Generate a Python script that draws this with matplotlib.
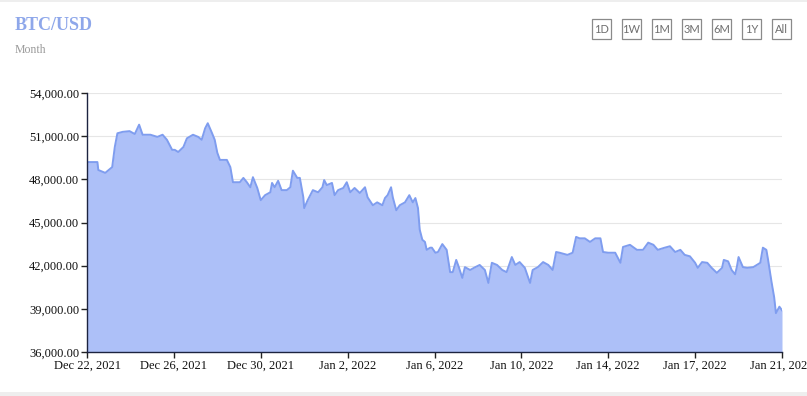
import matplotlib
matplotlib.use("Agg")
import matplotlib.pyplot as plt
from matplotlib.patches import Rectangle

# position along the category axis (0 = Dec 22 tick, 8 = Jan 21 tick)
pos = [0.00, 0.12, 0.13, 0.21, 0.29, 0.32, 0.35, 0.41, 0.49, 0.55, 0.60, 0.64,
       0.73, 0.81, 0.87, 0.92, 0.98, 1.01, 1.05, 1.11, 1.15, 1.22, 1.28, 1.32,
       1.36, 1.39, 1.44, 1.47, 1.50, 1.53, 1.61, 1.65, 1.68, 1.76, 1.80, 1.84,
       1.88, 1.91, 1.96, 2.00, 2.05, 2.11, 2.13, 2.16, 2.20, 2.24, 2.30, 2.34,
       2.37, 2.42, 2.45, 2.49, 2.50, 2.54, 2.60, 2.66, 2.71, 2.73, 2.76, 2.82,
       2.85, 2.89, 2.95, 2.99, 3.03, 3.08, 3.14, 3.20, 3.23, 3.29, 3.34, 3.40,
       3.43, 3.46, 3.50, 3.52, 3.56, 3.60, 3.66, 3.71, 3.75, 3.78, 3.81, 3.83,
       3.86, 3.89, 3.91, 3.95, 3.97, 4.01, 4.04, 4.09, 4.14, 4.18, 4.21, 4.25,
       4.28, 4.32, 4.35, 4.41, 4.47, 4.52, 4.58, 4.62, 4.66, 4.72, 4.78, 4.83,
       4.89, 4.93, 4.98, 5.04, 5.10, 5.13, 5.19, 5.25, 5.31, 5.36, 5.40, 5.44,
       5.53, 5.59, 5.63, 5.67, 5.73, 5.79, 5.85, 5.91, 5.94, 6.00, 6.08, 6.14,
       6.17, 6.25, 6.33, 6.40, 6.46, 6.52, 6.57, 6.65, 6.71, 6.77, 6.83, 6.88,
       6.94, 7.00, 7.03, 7.08, 7.14, 7.19, 7.25, 7.31, 7.33, 7.38, 7.42, 7.46,
       7.48, 7.50, 7.55, 7.60, 7.67, 7.75, 7.78, 7.82, 7.84, 7.88, 7.91, 7.93,
       7.97, 8.00]

price = [49200, 49200, 48650, 48450, 48850, 50250, 51200, 51300, 51350, 51150, 51800, 51100,
         51100, 50950, 51100, 50750, 50050, 50050, 49900, 50250, 50850, 51100, 50950, 50750,
         51550, 51900, 51200, 50750, 49850, 49350, 49350, 48850, 47800, 47800, 48100, 47800,
         47450, 48150, 47400, 46550, 46900, 47100, 47750, 47450, 47900, 47250, 47250, 47450,
         48600, 48100, 48100, 46750, 46000, 46550, 47250, 47100, 47450, 47950, 47600, 47750,
         46900, 47250, 47400, 47800, 47100, 47400, 47050, 47450, 46750, 46200, 46400, 46200,
         46700, 46900, 47450, 46750, 45850, 46200, 46400, 46900, 46400, 46700, 46000, 44500,
         43800, 43650, 43100, 43250, 43250, 42900, 42950, 43500, 43100, 41550, 41550, 42400,
         41900, 41150, 41900, 41700, 41900, 42050, 41700, 40800, 42200, 42050, 41700, 41550,
         42600, 42050, 42250, 41850, 40800, 41700, 41900, 42250, 42050, 41700, 42950, 42900,
         42750, 42900, 44000, 43900, 43900, 43650, 43900, 43900, 42950, 42900, 42900, 42200,
         43300, 43450, 43100, 43100, 43600, 43450, 43100, 43250, 43350, 42950, 43100, 42750,
         42650, 42200, 41850, 42250, 42200, 41850, 41500, 41850, 42400, 42300, 41700, 41400,
         41900, 42600, 41900, 41850, 41900, 42200, 43250, 43100, 42400, 40850, 39800, 38700,
         39150, 38900]

xtick_labels = ["Dec 22, 2021", "Dec 26, 2021", "Dec 30, 2021", "Jan 2, 2022", "Jan 6, 2022",
                "Jan 10, 2022", "Jan 14, 2022", "Jan 17, 2022", "Jan 21, 2022"]
yticks = [36000, 39000, 42000, 45000, 48000, 51000, 54000]
buttons = ["1D", "1W", "1M", "3M", "6M", "1Y", "All"]

serif = ["Liberation Serif", "DejaVu Serif"]

fig = plt.figure(figsize=(8.07, 3.96), dpi=100)
fig.patch.set_facecolor("white")

# gray strips at the top and bottom of the card
fig.patches.append(Rectangle((0, 0), 1, 4 / 396, transform=fig.transFigure,
                             facecolor="#eeeeee", edgecolor="none", zorder=0))
fig.patches.append(Rectangle((0, 1 - 2 / 396), 1, 2 / 396, transform=fig.transFigure,
                             facecolor="#eeeeee", edgecolor="none", zorder=0))

ax = fig.add_axes([87 / 807, 1 - 352 / 396, 695 / 807, 259 / 396])

ax.fill_between(pos, price, 36000, color="#adc0f8", linewidth=0, zorder=2)
ax.plot(pos, price, color="#7f9def", linewidth=1.4, zorder=3)

ax.set_xlim(0, 8)
ax.set_ylim(36000, 54000)
ax.set_xticks(range(len(xtick_labels)))
ax.set_xticklabels(xtick_labels, fontfamily=serif, fontsize=9, color="#111111")
ax.set_yticks(yticks)
ax.set_yticklabels(["{:,.2f}".format(v) for v in yticks], fontfamily=serif,
                   fontsize=9, color="#111111")
ax.tick_params(axis="both", length=4, width=1, color="#222222", pad=1.5)

ax.grid(axis="y", color="#e6e6e6", linewidth=0.8, zorder=0)
ax.set_axisbelow(True)
for side in ["top", "right"]:
    ax.spines[side].set_visible(False)
for side in ["left", "bottom"]:
    ax.spines[side].set_color("#1c2340")
    ax.spines[side].set_linewidth(1)
    ax.spines[side].set_zorder(4)

# title block
fig.text(15 / 807, 1 - 26 / 396, "BTC/USD", fontfamily=serif, fontweight="bold",
         fontsize=13, color="#8ea7ea", va="center", ha="left")
fig.text(15 / 807, 1 - 50 / 396, "Month", fontfamily=serif, fontsize=8.5,
         color="#9a9a9a", va="center", ha="left")

# range buttons
for i, b in enumerate(buttons):
    x0 = 592 + 30 * i
    fig.patches.append(Rectangle((x0 / 807, 1 - 39 / 396), 19 / 807, 20 / 396,
                                 transform=fig.transFigure, facecolor="none",
                                 edgecolor="#8a8a8a", linewidth=0.9, zorder=5))
    fig.text((x0 + 9.5) / 807, 1 - 29.5 / 396, b, fontfamily=["Lato", "DejaVu Sans"],
             fontsize=8, color="#6f6f6f", ha="center", va="center", zorder=6)

fig.savefig("out.png", dpi=100)
